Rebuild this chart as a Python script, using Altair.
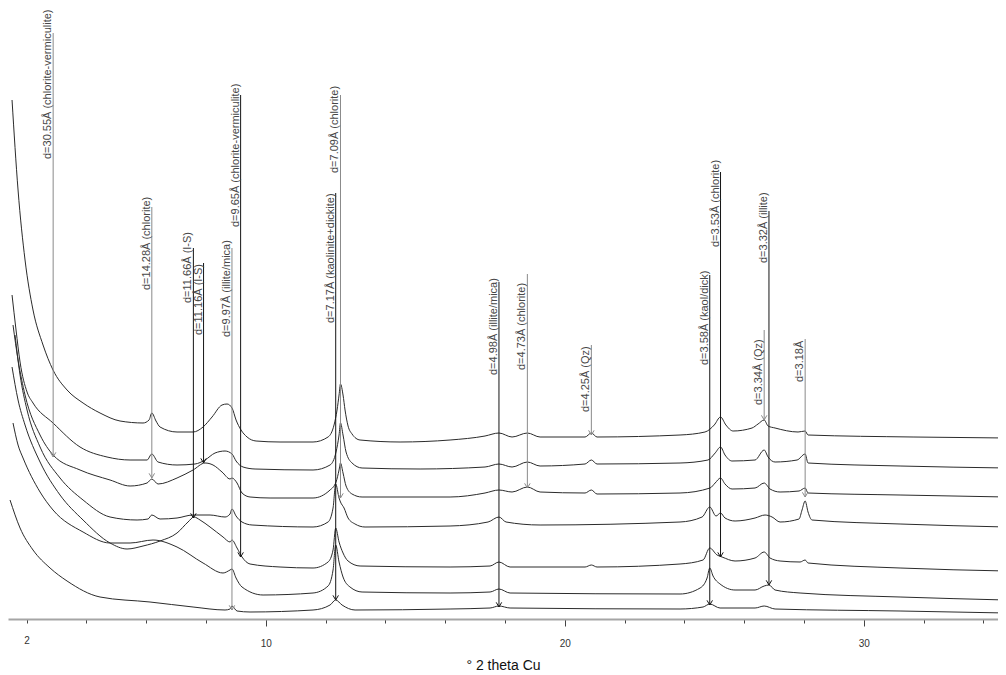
import altair as alt
import pandas as pd

# ---- diffractogram traces (2-theta in degrees, counts in arbitrary units), top to bottom ----
sample_names = ["S1", "S2", "S3", "S4", "S5", "S6", "S7"]

s1 = [(1.515, 519), (1.716, 429), (1.950, 359), (2.217, 309), (2.552, 274), (2.886, 249), (3.355, 229),
      (3.890, 216), (4.458, 206), (5.127, 198), (5.896, 196), (6.097, 199), (6.19, 206), (6.33, 198),
      (6.465, 192), (7.033, 187), (7.569, 187), (7.903, 192), (8.204, 202), (8.538, 214), (8.706, 215),
      (8.873, 211), (9.007, 199), (9.174, 189), (9.375, 182), (9.676, 178), (10.478, 177), (11.582, 177),
      (12.084, 182), (12.284, 194), (12.385, 209), (12.452, 224), (12.50, 235), (12.585, 224),
      (12.652, 209), (12.753, 193), (12.886, 185), (13.154, 179), (14.492, 177), (16.164, 179),
      (17.334, 183), (17.80, 186), (18.238, 182), (18.75, 186), (19.174, 182), (20.679, 182),
      (20.89, 186), (21.080, 182), (23.856, 184), (24.69, 187), (25.0, 194), (25.21, 202), (25.39, 194),
      (25.63, 188), (26.264, 191), (26.465, 195), (26.67, 199), (26.80, 193), (27.034, 191),
      (27.803, 187), (28.04, 188), (28.137, 184), (31.649, 182), (34.759, 181)]

s2 = [(1.515, 324), (1.649, 289), (1.783, 257), (2.017, 227), (2.217, 216), (2.886, 196), (3.789, 172),
      (4.692, 162), (5.462, 159), (6.030, 159), (6.19, 165), (6.398, 157), (7.033, 154), (7.635, 155),
      (7.970, 159), (8.304, 166), (8.639, 168), (8.873, 165), (9.007, 158), (9.241, 152), (9.642, 150),
      (11.582, 149), (12.151, 154), (12.351, 167), (12.452, 184), (12.50, 196), (12.585, 184),
      (12.686, 167), (12.886, 156), (13.221, 151), (15.161, 150), (17.334, 152), (17.80, 155),
      (18.238, 152), (18.75, 157), (19.174, 153), (20.679, 155), (20.89, 159), (21.080, 155),
      (23.856, 156), (24.79, 159), (25.03, 166), (25.21, 172), (25.36, 164), (25.595, 158),
      (26.365, 159), (26.67, 169), (26.80, 162), (27.034, 157), (27.770, 159), (28.04, 165),
      (28.137, 156), (31.214, 153), (34.759, 151)]

s3 = [(1.548, 294), (1.716, 259), (1.950, 224), (2.452, 184), (2.89, 164), (3.789, 149), (4.793, 139),
      (5.462, 133), (6.030, 136), (6.19, 140), (6.398, 135), (7.033, 141), (7.569, 149), (7.970, 156),
      (8.237, 154), (8.538, 147), (8.806, 140), (8.87, 141), (9.040, 136), (9.207, 126), (9.475, 122),
      (10.144, 121), (11.582, 121), (12.151, 129), (12.351, 137), (12.452, 149), (12.50, 156),
      (12.585, 146), (12.686, 133), (12.886, 125), (13.221, 122), (16.164, 122), (17.334, 126),
      (17.80, 129), (18.238, 127), (18.75, 132), (19.174, 127), (20.679, 126), (20.89, 129),
      (21.080, 125), (23.856, 126), (24.860, 131), (25.03, 136), (25.21, 141), (25.36, 135),
      (25.595, 130), (26.365, 131), (26.67, 136), (26.866, 130), (27.201, 127), (27.836, 128),
      (28.04, 131), (28.137, 126), (31.214, 124), (34.759, 122)]

s4 = [(1.615, 284), (1.783, 244), (2.017, 209), (2.452, 172), (3.120, 141), (3.890, 119), (4.793, 102),
      (5.696, 99), (6.063, 100), (6.19, 104), (6.465, 100), (7.033, 101), (7.569, 104), (8.137, 104),
      (8.639, 102), (8.806, 105), (8.87, 110), (9.007, 103), (9.207, 97), (9.542, 94), (11.582, 92),
      (12.084, 97), (12.251, 111), (12.34, 135), (12.452, 121), (12.50, 117), (12.619, 111),
      (12.753, 101), (12.987, 95), (13.321, 92), (16.164, 93), (17.435, 97), (17.80, 102), (18.037, 97),
      (19.174, 94), (23.856, 97), (24.593, 102), (24.85, 112), (25.06, 103), (25.21, 106), (25.36, 101),
      (25.696, 98), (26.365, 101), (26.70, 104), (26.934, 102), (27.201, 97), (27.836, 100),
      (27.936, 109), (28.04, 118), (28.137, 107), (28.271, 99), (31.214, 95), (34.759, 92)]

s5 = [(1.515, 252), (1.716, 219), (1.950, 194), (2.452, 157), (3.120, 124), (3.890, 99), (4.793, 76),
      (5.361, 70), (5.896, 73), (6.465, 78), (7.033, 86), (7.401, 97), (7.60, 102), (7.803, 99),
      (8.137, 92), (8.572, 82), (8.806, 77), (8.87, 79), (9.040, 71), (9.207, 62), (9.475, 55),
      (10.478, 52), (11.582, 51), (12.084, 57), (12.251, 69), (12.34, 91), (12.452, 77), (12.585, 66),
      (12.753, 58), (13.154, 53), (16.164, 52), (17.502, 53), (17.80, 57), (18.171, 52), (20.679, 52),
      (20.89, 54), (21.080, 52), (23.856, 55), (24.626, 59), (24.85, 71), (25.094, 64), (25.261, 62),
      (25.696, 58), (26.365, 61), (26.67, 67), (26.866, 61), (27.201, 58), (27.870, 57), (28.04, 59),
      (28.137, 56), (31.214, 51), (34.759, 48)]

s6 = [(1.548, 196), (1.716, 174), (1.883, 161), (2.452, 127), (2.886, 109), (3.890, 87), (4.793, 76),
      (5.462, 76), (6.231, 79), (7.033, 72), (7.903, 56), (8.572, 46), (8.806, 49), (8.87, 50),
      (9.007, 41), (9.207, 32), (9.910, 24), (11.582, 26), (12.084, 33), (12.251, 49), (12.34, 74),
      (12.452, 57), (12.585, 42), (12.819, 32), (13.221, 27), (16.164, 26), (17.502, 27), (17.80, 30),
      (18.171, 26), (23.856, 25), (24.526, 31), (24.76, 41), (24.85, 51), (24.96, 43), (25.194, 35),
      (25.696, 29), (26.365, 29), (26.67, 33), (26.83, 34), (27.034, 29), (27.870, 26), (31.214, 22),
      (34.759, 19)]

s7 = [(1.448, 119), (1.783, 91), (2.217, 69), (2.786, 51), (3.355, 38), (4.458, 22), (6.130, 17),
      (7.569, 12), (8.639, 9), (8.806, 10), (8.87, 13), (9.040, 8), (9.475, 7), (11.582, 9),
      (12.151, 14), (12.34, 19), (12.552, 14), (12.987, 9), (16.164, 10), (17.502, 11), (17.80, 13),
      (18.171, 11), (23.856, 10), (24.626, 12), (24.85, 15), (25.194, 11), (26.365, 11), (26.67, 13),
      (27.034, 10), (31.214, 8), (34.759, 6)]

# ---- peak annotations ----
ann_labels = ["d=30.55Å (chlorite-vermiculite)", "d=14.28Å (chlorite)", "d=11.66Å (I-S)", "d=11.16Å (I-S)",
              "d=9.97Å (illite/mica)", "d=9.65Å (chlorite-vermiculite)", "d=7.17Å (kaolinite+dickite)",
              "d=7.09Å (chlorite)", "d=4.98Å (illite/mica)", "d=4.73Å (chlorite)", "d=4.25Å (Qz)",
              "d=3.58Å (kaol/dick)", "d=3.53Å (chlorite)", "d=3.34Å (Qz)", "d=3.32Å (illite)", "d=3.18Å"]
ann_two_theta = [2.89, 6.19, 7.58, 7.92, 8.87, 9.16, 12.34, 12.50, 17.80, 18.75, 20.89, 24.85, 25.21,
                 26.67, 26.83, 28.04]
ann_line_top = [586, 412, 371, 356, 371, 524, 426, 524, 337, 345, 274, 344, 447, 289, 408, 280]
ann_line_bottom = [162, 141, 101, 156, 9, 62, 19, 121, 12, 131, 184, 14, 62, 199, 34, 122]
ann_text_base = [460, 329, 316, 284, 282, 392, 296, 446, 244, 249, 207, 254, 372, 214, 356, 237]
ann_tone = ["gray", "gray", "black", "black", "gray", "black", "black", "gray", "black", "gray", "gray",
            "black", "black", "gray", "black", "gray"]

tick_values = list(range(2, 35))

rows = []
for name, pts in zip(sample_names, [s1, s2, s3, s4, s5, s6, s7]):
    for i, (t, c) in enumerate(pts):
        rows.append({"sample": name, "two_theta": t, "counts": c, "idx": i})
traces = pd.DataFrame(rows)

ann = pd.DataFrame({
    "label": ann_labels,
    "two_theta": ann_two_theta,
    "top": ann_line_top,
    "bottom": ann_line_bottom,
    "text_base": ann_text_base,
    "tone": ann_tone,
})

FONT = "Liberation Sans"
x_scale = alt.Scale(domain=[1.38, 34.49], nice=False, zero=False)
y_scale = alt.Scale(domain=[0, 611], nice=False, zero=False)
tone_scale = alt.Scale(domain=["black", "gray"], range=["#151515", "#8a8a8a"])

x_axis = alt.Axis(
    values=tick_values,
    labelExpr="(datum.value == 2 || datum.value % 10 == 0) ? datum.label : ''",
    tickSize={"condition": {"test": "datum.value % 5 === 0", "value": 7}, "value": 4},
    tickColor="#444444",
    tickWidth=1,
    domainColor="#a5a5a5",
    domainWidth=2,
    grid=False,
    labelFont=FONT,
    labelFontSize=10,
    labelColor="#333333",
    labelPadding=12,
    labelOverlap=False,
    titleFont=FONT,
    titleFontSize=14,
    titleFontWeight="normal",
    titleColor="#111111",
    titlePadding=10,
)

lines = alt.Chart(traces).mark_line(
    color="#2b2b2b", strokeWidth=1, interpolate="monotone", clip=True
).encode(
    x=alt.X("two_theta:Q", scale=x_scale, axis=x_axis, title="° 2 theta Cu"),
    y=alt.Y("counts:Q", scale=y_scale, axis=None),
    detail="sample:N",
    order="idx:Q",
)

rules = alt.Chart(ann).mark_rule(strokeWidth=1).encode(
    x=alt.X("two_theta:Q", scale=x_scale, title="° 2 theta Cu"),
    y=alt.Y("top:Q", scale=y_scale, axis=None),
    y2="bottom:Q",
    color=alt.Color("tone:N", scale=tone_scale, legend=None),
)

arrows = alt.Chart(ann).mark_point(
    shape="M-1,-1.7L0,0L1,-1.7", filled=False, size=30, strokeWidth=1, opacity=1
).encode(
    x=alt.X("two_theta:Q", scale=x_scale, title="° 2 theta Cu"),
    y=alt.Y("bottom:Q", scale=y_scale, axis=None),
    color=alt.Color("tone:N", scale=tone_scale, legend=None),
)

texts = alt.Chart(ann).mark_text(
    angle=270, align="left", baseline="bottom", font=FONT, fontSize=11, color="#474747"
).encode(
    x=alt.X("two_theta:Q", scale=x_scale, title="° 2 theta Cu"),
    y=alt.Y("text_base:Q", scale=y_scale, axis=None),
    text="label:N",
)

chart = alt.layer(lines, rules, arrows, texts).properties(
    width=990,
    height=611,
    autosize=alt.AutoSizeParams(type="none"),
    padding={"left": 0, "top": 0, "right": 0, "bottom": 58},
    background="white",
).configure_view(stroke=None)

chart.save("out.html", embed_options={"renderer": "svg", "actions": False})
